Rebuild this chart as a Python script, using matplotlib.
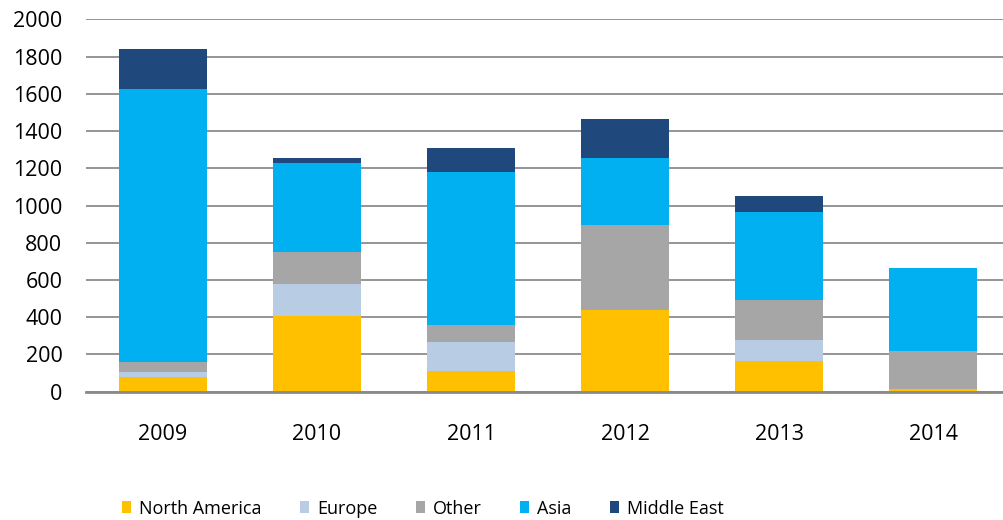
import matplotlib.pyplot as plt
from matplotlib.patches import Patch
import numpy as np

plt.rcParams['font.family'] = ['Open Sans', 'DejaVu Sans']

years = ['2009', '2010', '2011', '2012', '2013', '2014']
north_america = [79, 406, 113, 440, 165, 12]
europe = [27, 172, 156, 0, 113, 0]
other = [52, 170, 87, 455, 214, 206]
asia = [1468, 482, 822, 360, 471, 444]
middle_east = [215, 25, 129, 208, 86, 0]

series = [('North America', north_america, '#FFC000'),
          ('Europe', europe, '#B8CCE4'),
          ('Other', other, '#A6A6A6'),
          ('Asia', asia, '#00B0F0'),
          ('Middle East', middle_east, '#1F497D')]

fig = plt.figure(figsize=(10.04, 5.2), dpi=100)
ax = fig.add_axes([86/1004, 1-391.7/520, (1004-86)/1004, (391.7-19.3)/520])

x = np.arange(len(years))
bottom = np.zeros(len(years))
for name, vals, col in series:
    vals = np.array(vals, dtype=float)
    ax.bar(x, vals, width=0.571, bottom=bottom, color=col, label=name, zorder=3)
    bottom += vals

ax.set_ylim(0, 2000)
ax.set_xlim(-0.5, -0.5 + (1004-86)/154)
ax.set_yticks(range(0, 2001, 200))
ax.yaxis.grid(True, color='#8c8c8c', lw=1.3, zorder=0)
ax.set_axisbelow(True)
for s in ['top', 'right', 'left']:
    ax.spines[s].set_visible(False)
ax.spines['bottom'].set_color('#8a8a8a')
ax.spines['bottom'].set_linewidth(2)
ax.spines['bottom'].set_zorder(4)
ax.tick_params(axis='y', length=0, pad=17, labelsize=15.5, colors='black')
ax.tick_params(axis='x', length=0, pad=23, labelsize=15.5)
ax.set_xticks(x)
ax.set_xticklabels(years)

handles = [Patch(facecolor=col, edgecolor='none') for _, _, col in series]
labels = [name for name, _, _ in series]
fig.legend(handles, labels, loc='center left', bbox_to_anchor=(115/1004, 1-508.5/520),
           ncol=5, frameon=False, fontsize=13, handlelength=0.5, handleheight=0.65,
           handletextpad=0.42, columnspacing=2.15, borderaxespad=0)

fig.savefig('out.png', dpi=100)
